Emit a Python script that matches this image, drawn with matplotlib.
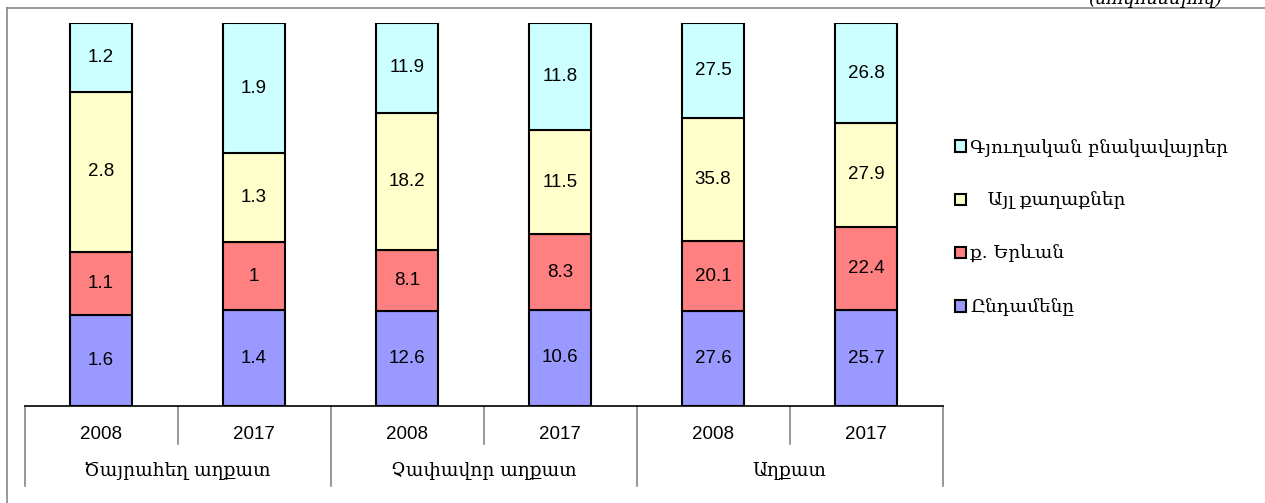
import numpy as np
from matplotlib import pyplot as plt
from matplotlib.lines import Line2D
from matplotlib.patches import Patch

groups = ['Ծայրահեղ աղքատ', 'Չափավոր աղքատ', 'Աղքատ']
years = ['2008', '2017', '2008', '2017', '2008', '2017']
total = [1.6, 1.4, 12.6, 10.6, 27.6, 25.7]
yerevan = [1.1, 1, 8.1, 8.3, 20.1, 22.4]
other_cities = [2.8, 1.3, 18.2, 11.5, 35.8, 27.9]
rural = [1.2, 1.9, 11.9, 11.8, 27.5, 26.8]
series_names = ['Ընդամենը', 'ք. Երևան', '   Այլ քաղաքներ', 'Գյուղական բնակավայրեր']
colors = ['#9999FF', '#FF8080', '#FFFFCC', '#CCFFFF']
unit_text = '(տոկոսներով)'

class MainSolution():
    def __init__(self):
      self.series = np.array([total, yerevan, other_cities, rural])
      self.shares = self.series / self.series.sum(axis=0)
      self.x = np.arange(len(years))

    def bars(self):
      bottom = np.zeros(len(years))
      for i in range(len(self.series)):
        plt.bar(self.x, self.shares[i], 0.4, bottom=bottom, color=colors[i],
                edgecolor='black', linewidth=1.5)
        for j in range(len(years)):
          plt.text(self.x[j], bottom[j] + self.shares[i][j] / 2, f'{self.series[i][j]:g}',
                   ha='center', va='center', fontsize=13.5, family='Liberation Sans')
        bottom = bottom + self.shares[i]

    def category_axis(self):
      ax = plt.gca()
      tr = ax.get_xaxis_transform()
      for k in range(len(years) + 1):
        depth = -0.21 if k % 2 == 0 else -0.10
        ax.add_line(Line2D([k - 0.5, k - 0.5], [0, depth], transform=tr, color='#888888',
                           linewidth=1.2, clip_on=False))
      for j in range(len(years)):
        plt.text(self.x[j], -0.075, years[j], transform=tr, ha='center', va='center',
                 fontsize=13.5, family='Liberation Sans')
      for g in range(len(groups)):
        plt.text(2 * g + 0.5, -0.17, groups[g], transform=tr, ha='center', va='center',
                 fontsize=13.4, family='DejaVu Serif')
      plt.xlim(-0.5, len(years) - 0.5)
      plt.ylim(0, 1)
      plt.xticks([])
      plt.yticks([])
      for s in ['top', 'right', 'left']:
        ax.spines[s].set_visible(False)
      ax.spines['bottom'].set_linewidth(1.2)

    def legend(self):
      handles = [Patch(facecolor=colors[i], edgecolor='black', linewidth=1.5) for i in range(4)]
      plt.figlegend(handles[::-1], series_names[::-1], loc='upper left',
                    bbox_to_anchor=(0.742, 0.757), frameon=False, handlelength=0.6,
                    handleheight=0.6, handletextpad=0.2, labelspacing=1.9,
                    prop={'family': 'DejaVu Serif', 'size': 13.3})

if __name__ == "__main__":
    ms = MainSolution()
    fig = plt.figure(figsize=(12.65, 5.03), dpi=100)
    plt.axes([0.0194, 0.193, 0.7257, 0.761])
    ms.bars()
    ms.category_axis()
    ms.legend()
    #########
    fig.add_artist(Line2D([7 / 1265, 1], [1 - 8 / 503, 1 - 8 / 503], color='#888888', linewidth=1.2))
    fig.add_artist(Line2D([7 / 1265, 7 / 1265], [0, 1 - 8 / 503], color='#888888', linewidth=1.2))
    fig.text(1155 / 1265, 1 - 4 / 503, unit_text, ha='center', va='baseline', fontsize=13,
             style='italic', family='DejaVu Serif')
    plt.savefig('out.png', dpi=100)
    plt.close()
